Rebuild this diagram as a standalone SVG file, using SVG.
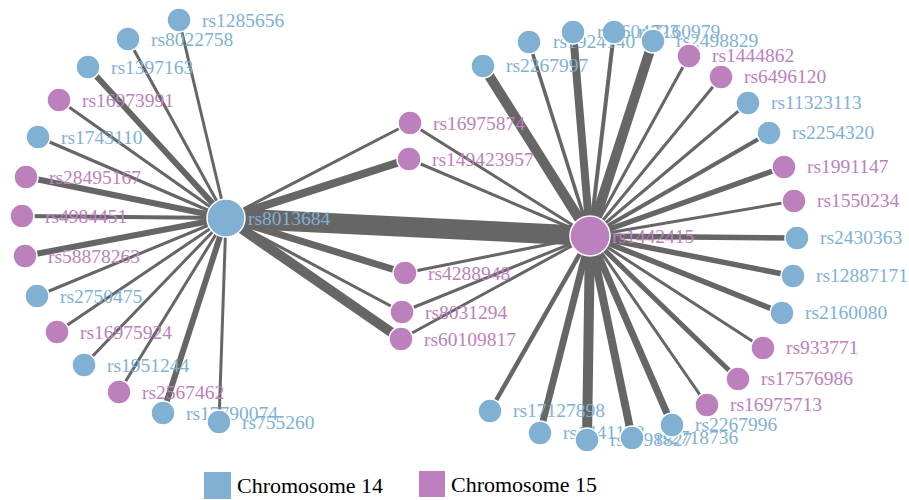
<svg xmlns="http://www.w3.org/2000/svg" width="909" height="500" viewBox="0 0 909 500">
  <style>
    .links line { stroke: #666; stroke-linecap: butt; }
    .node circle { stroke: #fff; stroke-width: 1.5; }
    .node text { font-family: "Liberation Serif", "Times New Roman", serif; font-size: 19.5px; }
    .c14 circle { fill: #80b1d3; }
    .c14 text { fill: #80b1d3; }
    .c15 circle { fill: #bc80bd; }
    .c15 text { fill: #bc80bd; }
    .legend text { font-family: "Liberation Serif", "Times New Roman", serif; font-size: 22px; fill: #000; }
  </style>
  <rect width="909" height="500" fill="#fff"/>

  <!-- connectors -->
  <g class="links" id="links">
    <!-- rs8013684 -->
    <line x1="226" y1="218" x2="179" y2="20" stroke-width="3"/>
    <line x1="226" y1="218" x2="128" y2="39" stroke-width="3"/>
    <line x1="226" y1="218" x2="88" y2="67" stroke-width="6"/>
    <line x1="226" y1="218" x2="59" y2="100" stroke-width="3"/>
    <line x1="226" y1="218" x2="38" y2="137" stroke-width="3.5"/>
    <line x1="226" y1="218" x2="26" y2="177" stroke-width="6"/>
    <line x1="226" y1="218" x2="22" y2="216" stroke-width="4"/>
    <line x1="226" y1="218" x2="25" y2="256" stroke-width="6"/>
    <line x1="226" y1="218" x2="37" y2="296" stroke-width="3"/>
    <line x1="226" y1="218" x2="57" y2="332" stroke-width="3"/>
    <line x1="226" y1="218" x2="84" y2="365" stroke-width="3"/>
    <line x1="226" y1="218" x2="119" y2="392" stroke-width="3"/>
    <line x1="226" y1="218" x2="163" y2="413" stroke-width="6"/>
    <line x1="226" y1="218" x2="219" y2="422" stroke-width="3"/>
    <line x1="226" y1="218" x2="410" y2="123" stroke-width="3"/>
    <line x1="226" y1="218" x2="409" y2="159" stroke-width="8"/>
    <line x1="226" y1="218" x2="405" y2="273" stroke-width="7"/>
    <line x1="226" y1="218" x2="402" y2="312" stroke-width="3"/>
    <line x1="226" y1="218" x2="401" y2="339" stroke-width="10"/>
    <line x1="226" y1="218" x2="590" y2="236" stroke-width="20"/>
    <!-- rs1442415 -->
    <line x1="590" y1="236" x2="410" y2="123" stroke-width="3"/>
    <line x1="590" y1="236" x2="409" y2="159" stroke-width="3"/>
    <line x1="590" y1="236" x2="405" y2="273" stroke-width="3"/>
    <line x1="590" y1="236" x2="402" y2="312" stroke-width="3"/>
    <line x1="590" y1="236" x2="401" y2="339" stroke-width="3"/>
    <line x1="590" y1="236" x2="483" y2="66" stroke-width="10"/>
    <line x1="590" y1="236" x2="529" y2="42" stroke-width="3.5"/>
    <line x1="590" y1="236" x2="573" y2="32" stroke-width="8"/>
    <line x1="590" y1="236" x2="614" y2="32" stroke-width="4"/>
    <line x1="590" y1="236" x2="653" y2="41" stroke-width="10"/>
    <line x1="590" y1="236" x2="689" y2="56" stroke-width="3"/>
    <line x1="590" y1="236" x2="721" y2="77" stroke-width="3"/>
    <line x1="590" y1="236" x2="748" y2="103" stroke-width="3"/>
    <line x1="590" y1="236" x2="769" y2="133" stroke-width="4"/>
    <line x1="590" y1="236" x2="784" y2="167" stroke-width="5.5"/>
    <line x1="590" y1="236" x2="794" y2="201" stroke-width="3"/>
    <line x1="590" y1="236" x2="797" y2="238" stroke-width="5.5"/>
    <line x1="590" y1="236" x2="793" y2="276" stroke-width="5.5"/>
    <line x1="590" y1="236" x2="782" y2="313" stroke-width="5.5"/>
    <line x1="590" y1="236" x2="763" y2="348" stroke-width="3"/>
    <line x1="590" y1="236" x2="738" y2="379" stroke-width="5"/>
    <line x1="590" y1="236" x2="707" y2="405" stroke-width="3"/>
    <line x1="590" y1="236" x2="672" y2="425" stroke-width="7"/>
    <line x1="590" y1="236" x2="632" y2="438" stroke-width="8"/>
    <line x1="590" y1="236" x2="587" y2="440" stroke-width="10"/>
    <line x1="590" y1="236" x2="540" y2="433" stroke-width="7"/>
    <line x1="590" y1="236" x2="490" y2="411" stroke-width="4.5"/>
  </g>

  <!-- left fan -->
  <g id="rs1285656" class="node c14"><circle cx="179" cy="20" r="12"/><text x="202" y="27">rs1285656</text></g>
  <g id="rs8022758" class="node c14"><circle cx="128" cy="39" r="12"/><text x="151" y="46">rs8022758</text></g>
  <g id="rs1397163" class="node c14"><circle cx="88" cy="67" r="12"/><text x="111" y="74">rs1397163</text></g>
  <g id="rs16973991" class="node c15"><circle cx="59" cy="100" r="12"/><text x="82" y="107">rs16973991</text></g>
  <g id="rs1743110" class="node c14"><circle cx="38" cy="137" r="12"/><text x="61" y="144">rs1743110</text></g>
  <g id="rs28495167" class="node c15"><circle cx="26" cy="177" r="12"/><text x="49" y="184">rs28495167</text></g>
  <g id="rs4984451" class="node c15"><circle cx="22" cy="216" r="12"/><text x="45" y="223">rs4984451</text></g>
  <g id="rs58878263" class="node c15"><circle cx="25" cy="256" r="12"/><text x="48" y="263">rs58878263</text></g>
  <g id="rs2750475" class="node c14"><circle cx="37" cy="296" r="12"/><text x="60" y="303">rs2750475</text></g>
  <g id="rs16975924" class="node c15"><circle cx="57" cy="332" r="12"/><text x="80" y="339">rs16975924</text></g>
  <g id="rs1951244" class="node c14"><circle cx="84" cy="365" r="12"/><text x="107" y="372">rs1951244</text></g>
  <g id="rs2567462" class="node c15"><circle cx="119" cy="392" r="12"/><text x="142" y="399">rs2567462</text></g>
  <g id="rs17790074" class="node c14"><circle cx="163" cy="413" r="12"/><text x="186" y="420">rs17790074</text></g>
  <g id="rs755260" class="node c14"><circle cx="219" cy="422" r="12"/><text x="242" y="429">rs755260</text></g>

  <!-- shared middle nodes -->
  <g id="rs16975874" class="node c15"><circle cx="410" cy="123" r="12"/><text x="433" y="130">rs16975874</text></g>
  <g id="rs149423957" class="node c15"><circle cx="409" cy="159" r="12"/><text x="432" y="166">rs149423957</text></g>
  <g id="rs4288948" class="node c15"><circle cx="405" cy="273" r="12"/><text x="428" y="280">rs4288948</text></g>
  <g id="rs8031294" class="node c15"><circle cx="402" cy="312" r="12"/><text x="425" y="319">rs8031294</text></g>
  <g id="rs60109817" class="node c15"><circle cx="401" cy="339" r="12"/><text x="424" y="346">rs60109817</text></g>

  <!-- right fan -->
  <g id="rs2267997" class="node c14"><circle cx="483" cy="66" r="12"/><text x="506" y="72">rs2267997</text></g>
  <g id="rs1924140" class="node c14"><circle cx="529" cy="42" r="12"/><text x="553" y="48">rs1924140</text></g>
  <g id="rs7160979" class="node c14"><circle cx="614" cy="32" r="12"/><text x="638" y="38">rs7160979</text></g>
  <g id="rs7604323" class="node c14"><circle cx="573" cy="32" r="12"/><text x="597" y="38">rs7604323</text></g>
  <g id="rs2498829" class="node c14"><circle cx="653" cy="41" r="12"/><text x="676" y="47">rs2498829</text></g>
  <g id="rs1444862" class="node c15"><circle cx="689" cy="56" r="12"/><text x="712" y="62">rs1444862</text></g>
  <g id="rs6496120" class="node c15"><circle cx="721" cy="77" r="12"/><text x="744" y="83">rs6496120</text></g>
  <g id="rs11323113" class="node c14"><circle cx="748" cy="103" r="12"/><text x="771" y="109">rs11323113</text></g>
  <g id="rs2254320" class="node c14"><circle cx="769" cy="133" r="12"/><text x="792" y="139">rs2254320</text></g>
  <g id="rs1991147" class="node c15"><circle cx="784" cy="167" r="12"/><text x="807" y="173">rs1991147</text></g>
  <g id="rs1550234" class="node c15"><circle cx="794" cy="201" r="12"/><text x="817" y="207">rs1550234</text></g>
  <g id="rs2430363" class="node c14"><circle cx="797" cy="238" r="12"/><text x="820" y="244">rs2430363</text></g>
  <g id="rs12887171" class="node c14"><circle cx="793" cy="276" r="12"/><text x="816" y="282">rs12887171</text></g>
  <g id="rs2160080" class="node c14"><circle cx="782" cy="313" r="12"/><text x="805" y="319">rs2160080</text></g>
  <g id="rs933771" class="node c15"><circle cx="763" cy="348" r="12"/><text x="786" y="354">rs933771</text></g>
  <g id="rs17576986" class="node c15"><circle cx="738" cy="379" r="12"/><text x="761" y="385">rs17576986</text></g>
  <g id="rs16975713" class="node c15"><circle cx="707" cy="405" r="12"/><text x="730" y="411">rs16975713</text></g>
  <g id="rs17127898" class="node c14"><circle cx="490" cy="411" r="12"/><text x="513" y="417">rs17127898</text></g>
  <g id="rs1441128" class="node c14"><circle cx="540" cy="433" r="12"/><text x="563" y="439">rs1441128</text></g>
  <g id="rs1498827" class="node c14"><circle cx="587" cy="440" r="12"/><text x="610" y="446">rs1498827</text></g>
  <g id="rs2718736" class="node c14"><circle cx="632" cy="438" r="12"/><text x="656" y="444">rs2718736</text></g>
  <g id="rs2267996" class="node c14"><circle cx="672" cy="425" r="12"/><text x="695" y="431">rs2267996</text></g>

  <!-- hubs -->
  <g id="rs8013684" class="node c14"><circle cx="226" cy="218" r="19"/><text x="248" y="225">rs8013684</text></g>
  <g id="rs1442415" class="node c15"><circle cx="590" cy="236" r="20"/><text x="612" y="243">rs1442415</text></g>

  <!-- legend -->
  <g class="legend" id="legend">
    <rect x="204" y="472" width="27" height="27" fill="#80b1d3"/>
    <text x="237" y="493">Chromosome 14</text>
    <rect x="419" y="471" width="26" height="26" fill="#bc80bd"/>
    <text x="451" y="492">Chromosome 15</text>
  </g>
</svg>
